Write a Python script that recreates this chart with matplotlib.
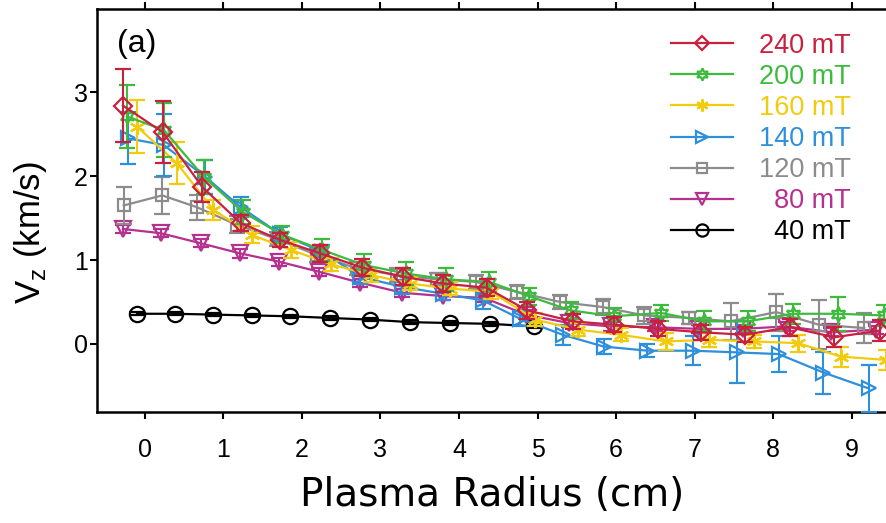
import matplotlib
matplotlib.use("Agg")
import matplotlib.pyplot as plt
from matplotlib.font_manager import FontProperties

# ---------------- data ----------------
labels = ["240 mT", "200 mT", "160 mT", "140 mT", "120 mT", "\u200780 mT", "\u200740 mT"]

r_240 = [-0.28, 0.23, 0.73, 1.22, 1.72, 2.23, 2.77, 3.29, 3.80, 4.35, 4.87, 5.45, 5.97, 6.53, 7.08, 7.64, 8.21, 8.78, 9.36]
v_240 = [2.84, 2.52, 1.87, 1.44, 1.24, 1.08, 0.91, 0.80, 0.72, 0.67, 0.40, 0.27, 0.23, 0.18, 0.14, 0.11, 0.20, 0.08, 0.16]
e_240 = [0.44, 0.37, 0.18, 0.10, 0.08, 0.10, 0.10, 0.10, 0.10, 0.10, 0.10, 0.09, 0.09, 0.09, 0.09, 0.09, 0.10, 0.12, 0.12]

r_200 = [-0.23, 0.24, 0.75, 1.25, 1.75, 2.26, 2.79, 3.32, 3.84, 4.38, 4.89, 5.42, 5.97, 6.57, 7.12, 7.68, 8.25, 8.83, 9.41]
v_200 = [2.71, 2.55, 1.99, 1.57, 1.30, 1.12, 0.94, 0.84, 0.77, 0.74, 0.57, 0.40, 0.33, 0.37, 0.27, 0.27, 0.36, 0.36, 0.34]
e_200 = [0.37, 0.32, 0.20, 0.14, 0.10, 0.13, 0.13, 0.14, 0.14, 0.12, 0.10, 0.10, 0.10, 0.10, 0.12, 0.12, 0.12, 0.20, 0.12]

r_160 = [-0.10, 0.41, 0.87, 1.36, 1.86, 2.37, 2.88, 3.38, 3.89, 4.41, 4.97, 5.52, 6.06, 6.63, 7.18, 7.76, 8.32, 8.86, 9.44]
v_160 = [2.59, 2.15, 1.60, 1.30, 1.12, 0.95, 0.82, 0.72, 0.66, 0.62, 0.29, 0.17, 0.11, 0.03, 0.05, 0.03, 0.01, -0.15, -0.19]
e_160 = [0.32, 0.25, 0.12, 0.10, 0.10, 0.08, 0.08, 0.08, 0.08, 0.08, 0.08, 0.08, 0.08, 0.10, 0.08, 0.08, 0.10, 0.12, 0.12]

r_140 = [-0.22, 0.24, 0.77, 1.22, 1.72, 2.26, 2.74, 3.28, 3.79, 4.30, 4.78, 5.32, 5.84, 6.40, 6.98, 7.54, 8.07, 8.64, 9.22]
v_140 = [2.45, 2.37, 1.99, 1.63, 1.31, 1.10, 0.80, 0.68, 0.60, 0.52, 0.30, 0.11, -0.03, -0.08, -0.08, -0.10, -0.12, -0.34, -0.53]
e_140 = [0.31, 0.37, 0.20, 0.12, 0.08, 0.08, 0.08, 0.08, 0.08, 0.10, 0.09, 0.12, 0.09, 0.08, 0.17, 0.37, 0.21, 0.25, 0.28]

r_120 = [-0.27, 0.22, 0.66, 1.17, 1.68, 2.19, 2.70, 3.21, 3.72, 4.21, 4.74, 5.29, 5.83, 6.36, 6.93, 7.46, 8.04, 8.58, 9.16]
v_120 = [1.65, 1.77, 1.63, 1.42, 1.25, 1.06, 0.90, 0.82, 0.77, 0.74, 0.62, 0.50, 0.44, 0.34, 0.31, 0.27, 0.38, 0.23, 0.19]
e_120 = [0.22, 0.22, 0.15, 0.10, 0.08, 0.08, 0.08, 0.08, 0.08, 0.08, 0.08, 0.08, 0.10, 0.10, 0.07, 0.22, 0.22, 0.29, 0.18]

r_80 = [-0.28, 0.20, 0.71, 1.21, 1.71, 2.22, 2.74, 3.28, 3.80, 4.32, 4.85, 5.40, 5.93, 6.49, 7.05, 7.61, 8.17, 8.74, 9.31]
v_80 = [1.37, 1.32, 1.20, 1.08, 0.98, 0.86, 0.73, 0.61, 0.57, 0.55, 0.35, 0.25, 0.21, 0.20, 0.18, 0.18, 0.21, 0.14, 0.17]
e_80 = [0.05] * 19

r_40 = [-0.10, 0.38, 0.87, 1.36, 1.85, 2.36, 2.87, 3.38, 3.88, 4.40, 4.95]
v_40 = [0.36, 0.36, 0.35, 0.34, 0.33, 0.31, 0.29, 0.26, 0.25, 0.24, 0.21]
e_40 = [0.02] * 11

x_ticks = [0, 1, 2, 3, 4, 5, 6, 7, 8, 9]
y_ticks = [0, 1, 2, 3]

# ---------------- styling ----------------
colors = ["#C8203E", "#3DBB3D", "#F2CC0C", "#2E8FDB", "#8C8C8C", "#B5308F", "#000000"]
markers = ["D", (6, 1, 0), (6, 2, 0), ">", "s", "v", "o"]
msizes = [9.5, 11, 11, 10, 8.5, 11, 11]

series = [
    (r_240, v_240, e_240),
    (r_200, v_200, e_200),
    (r_160, v_160, e_160),
    (r_140, v_140, e_140),
    (r_120, v_120, e_120),
    (r_80, v_80, e_80),
    (r_40, v_40, e_40),
]

plt.rcParams['font.family'] = ['Liberation Sans', 'DejaVu Sans']
plt.rcParams['mathtext.fontset'] = 'custom'
plt.rcParams['mathtext.rm'] = 'Liberation Sans'

fig = plt.figure(figsize=(8.87, 5.23), dpi=100)
ax = fig.add_axes([97 / 887, 111 / 523, 790 / 887, 403 / 523])

handles = []
n = len(series)
for i in reversed(range(n)):
    r, v, e = series[i]
    c = colors[i]
    h = ax.errorbar(r, v, yerr=e, color=c, ecolor=c, elinewidth=1.5, capsize=6,
                    capthick=1.5, lw=1.6, marker=markers[i], ms=msizes[i],
                    mfc='none', mec=c, mew=1.6, zorder=2 + (n - i))
    handles.append((i, h))

handles.sort(key=lambda t: t[0])
leg = ax.legend([h[1].lines[0] for h in handles], labels, loc='upper left',
                bbox_to_anchor=(0.709, 0.975), frameon=False, handlelength=2.3,
                handletextpad=0.95, labelspacing=0.19, borderpad=0, markerscale=0.8,
                prop=FontProperties(family=['Liberation Sans', 'DejaVu Sans'], size=19.5))
for t, c in zip(leg.get_texts(), colors):
    t.set_color(c)

ax.set_xlim(-0.61, 9.45)
ax.set_ylim(-0.81, 3.99)
ax.set_xticks(x_ticks)
ax.set_yticks(y_ticks)
ax.spines['right'].set_visible(False)
for s in ['left', 'bottom', 'top']:
    ax.spines[s].set_linewidth(1.8)

ax.tick_params(axis='x', which='both', direction='out', length=5, width=1.5,
               top=True, labelsize=18, pad=14)
ax.tick_params(axis='y', which='both', direction='out', length=5, width=1.5,
               right=False, labelsize=18, pad=1.5)

ax.set_xlabel("Plasma Radius (cm)", fontsize=28, family='DejaVu Sans', labelpad=10)
ax.set_ylabel(r"V$_\mathregular{z}$ (km/s)", fontsize=25)
ax.yaxis.set_label_coords(-0.061, 0.445)

ax.text(0.025, 0.913, "(a)", transform=ax.transAxes, fontsize=23, va='center', ha='left')

fig.savefig("out.png", dpi=100)
